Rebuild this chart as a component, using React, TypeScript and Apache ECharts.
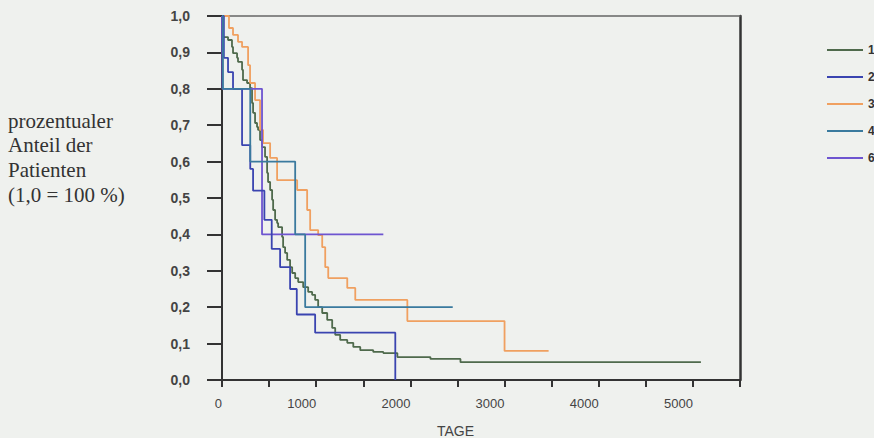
import React, { useEffect, useRef } from "react";
import * as echarts from "echarts";

// Kaplan-Meier style survival curves (Tage vs. Anteil)
const groupNames = ["1", "2", "3", "4", "6"];

const g1Days = [0, 11, 64, 106, 117, 160, 170, 213, 223, 266, 298, 319, 330, 351, 372, 383, 404, 426, 457, 479, 489, 511, 532, 543, 564, 585, 596, 638, 649, 670, 692, 723, 745, 777, 809, 862, 915, 957, 989, 1021, 1064, 1117, 1170, 1202, 1255, 1330, 1394, 1468, 1606, 1713, 1862, 2213, 2532, 5085];
const g1Surv = [1, 0.942, 0.934, 0.915, 0.898, 0.885, 0.874, 0.852, 0.824, 0.816, 0.802, 0.761, 0.734, 0.706, 0.695, 0.687, 0.659, 0.64, 0.613, 0.569, 0.544, 0.522, 0.495, 0.467, 0.44, 0.431, 0.42, 0.393, 0.365, 0.349, 0.33, 0.31, 0.294, 0.28, 0.269, 0.255, 0.242, 0.234, 0.22, 0.2, 0.184, 0.165, 0.143, 0.124, 0.11, 0.102, 0.091, 0.082, 0.077, 0.074, 0.063, 0.058, 0.049, 0.049];

const g2Days = [0, 20, 64, 117, 213, 300, 330, 450, 528, 617, 723, 794, 989, 1840];
const g2Surv = [1, 0.885, 0.846, 0.8, 0.645, 0.58, 0.52, 0.44, 0.36, 0.31, 0.25, 0.18, 0.13, 0];

const g3Days = [0, 74, 117, 170, 213, 277, 298, 351, 404, 436, 511, 585, 798, 904, 936, 1021, 1064, 1096, 1128, 1330, 1415, 1968, 3000, 3468];
const g3Surv = [1, 0.967, 0.948, 0.929, 0.915, 0.865, 0.816, 0.769, 0.687, 0.651, 0.61, 0.549, 0.522, 0.467, 0.412, 0.398, 0.365, 0.31, 0.28, 0.253, 0.22, 0.162, 0.08, 0.08];

const g4Days = [0, 10, 300, 777, 883, 2450];
const g4Surv = [1, 0.8, 0.6, 0.4, 0.2, 0.2];

const g6Days = [0, 5, 425, 1713];
const g6Surv = [1, 0.8, 0.4, 0.4];

const xMax = 5500;
const xTickStep = 500;
const xLabelStep = 1000;

const yTitleLines = ["prozentualer", "Anteil der", "Patienten", "(1,0 = 100 %)"];
const xTitle = "TAGE";

const zip = (d: number[], s: number[]) => d.map((v, i) => [v, s[i]]);

export default function App() {
  const ref = useRef<HTMLDivElement>(null);
  useEffect(() => {
    if (!ref.current) return;
    const chart = echarts.init(ref.current, null, { renderer: "svg" });
    const mk = (name: string, data: number[][], color: string, z: number) => ({
      name,
      type: "line",
      step: "end",
      data,
      symbol: "none",
      z,
      lineStyle: { color, width: 1.8 },
      itemStyle: { color },
    });
    chart.setOption({
      animation: false,
      backgroundColor: "#eff1ee",
      grid: { left: 222, right: 134, top: 16, bottom: 58 },
      legend: {
        orient: "vertical",
        left: 822,
        top: 38,
        icon: "rect",
        itemWidth: 36,
        itemHeight: 2,
        itemGap: 13,
        data: groupNames,
        textStyle: { color: "#333", fontSize: 12, fontWeight: "bold", fontFamily: "Liberation Sans", lineHeight: 14 },
      },
      xAxis: [
        {
          type: "value",
          min: 0,
          max: xMax,
          interval: xTickStep,
          axisLine: { onZero: false, lineStyle: { color: "#333", width: 2 } },
          axisTick: { length: 7, lineStyle: { color: "#333", width: 2 } },
          axisLabel: {
            formatter: (v: number) => (v % xLabelStep === 0 ? String(v) : ""),
            align: "right",
            margin: 17,
            color: "#444",
            fontSize: 13,
            fontFamily: "Liberation Sans",
          },
          splitLine: { show: false },
        },
        {
          type: "value",
          position: "top",
          min: 0,
          max: xMax,
          axisLine: { show: true, onZero: false, lineStyle: { color: "#666", width: 1.5 } },
          axisTick: { show: false },
          axisLabel: { show: false },
          splitLine: { show: false },
        },
      ],
      yAxis: [
        {
          type: "value",
          min: 0,
          max: 1,
          interval: 0.1,
          axisLine: { show: true, onZero: false, lineStyle: { color: "#333", width: 2 } },
          axisTick: { show: true, length: 15, lineStyle: { color: "#333", width: 2 } },
          axisLabel: {
            formatter: (v: number) => v.toFixed(1).replace(".", ","),
            margin: 32,
            color: "#444",
            fontSize: 14,
            fontWeight: "bold",
            fontFamily: "Liberation Sans",
          },
          splitLine: { show: false },
        },
        {
          type: "value",
          position: "right",
          min: 0,
          max: 1,
          axisLine: { show: true, onZero: false, lineStyle: { color: "#333", width: 2.5 } },
          axisTick: { show: false },
          axisLabel: { show: false },
          splitLine: { show: false },
        },
      ],
      graphic: [
        ...yTitleLines.map((t, i) => ({
          type: "text",
          left: 8,
          top: 110 + i * 24.7,
          style: { text: t, fill: "#333", font: "21px 'Liberation Serif'" },
        })),
        {
          type: "text",
          left: 437,
          top: 424,
          style: { text: xTitle, fill: "#444", font: "14px 'Liberation Sans'" },
        },
      ],
      series: [
        mk("1", zip(g1Days, g1Surv), "#4f6a4c", 2),
        mk("3", zip(g3Days, g3Surv), "#f0a060", 3),
        mk("6", zip(g6Days, g6Surv), "#6e55d0", 4),
        mk("2", zip(g2Days, g2Surv), "#3a44b0", 5),
        mk("4", zip(g4Days, g4Surv), "#3a7a9e", 6),
      ],
    });
    return () => chart.dispose();
  }, []);
  return <div ref={ref} style={{ position: "absolute", left: 0, top: 0, width: 874, height: 438 }} />;
}
